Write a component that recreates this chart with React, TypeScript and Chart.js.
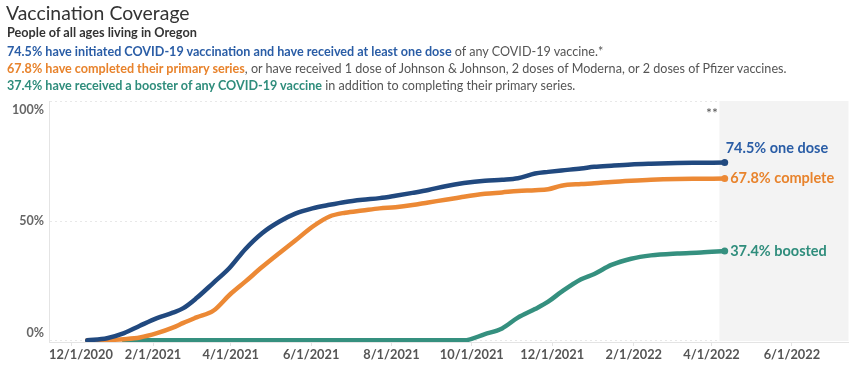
import React, { useEffect, useRef } from "react";
import { Chart, registerables } from "chart.js";

Chart.register(...registerables);

// ---------- data ----------
const dates = [
  "2020-12-13", "2020-12-28", "2021-01-10", "2021-01-22", "2021-02-04", "2021-02-16",
  "2021-02-24", "2021-03-06", "2021-03-19", "2021-03-31", "2021-04-12", "2021-04-25",
  "2021-05-08", "2021-05-20", "2021-06-02", "2021-06-15", "2021-06-27", "2021-07-10",
  "2021-07-23", "2021-08-04", "2021-08-17", "2021-08-29", "2021-09-11", "2021-09-25",
  "2021-10-11", "2021-10-24", "2021-11-05", "2021-11-18", "2021-11-28", "2021-12-08",
  "2021-12-23", "2022-01-02", "2022-01-15", "2022-01-30", "2022-02-14", "2022-03-06",
  "2022-03-24", "2022-04-11",
];

const oneDose = [
  0, 0.9, 3.0, 6.1, 9.3, 11.6,
  13.5, 17.7, 24.2, 30.3, 38.2, 45.0,
  49.8, 53.1, 55.3, 56.8, 58.0, 58.9,
  59.6, 60.6, 61.8, 63.0, 64.6, 65.9,
  66.9, 67.3, 67.9, 69.9, 70.6, 71.2,
  72.0, 72.7, 73.2, 73.7, 74.0, 74.3,
  74.4, 74.5,
];

const complete = [
  0, 0.1, 0.5, 1.2, 3.0, 5.3,
  7.3, 9.6, 12.5, 19.0, 24.6, 30.8,
  36.6, 41.8, 47.6, 51.9, 53.5, 54.4,
  55.3, 55.8, 56.7, 57.8, 58.9, 60.2,
  61.4, 62.0, 62.6, 62.9, 63.3, 64.8,
  65.5, 65.8, 66.4, 66.9, 67.3, 67.6,
  67.7, 67.8,
];

const boosted = [
  null, null, 0, 0, 0, 0,
  0, 0, 0, 0, 0, 0,
  0, 0, 0, 0, 0, 0,
  0, 0, 0, 0, 0, 0,
  2.6, 5.0, 9.5, 13.1, 16.2, 20.3,
  25.6, 27.8, 31.6, 34.2, 35.6, 36.4,
  36.8, 37.4,
];

const xTickDates = [
  "2020-12-01", "2021-02-01", "2021-04-01", "2021-06-01", "2021-08-01",
  "2021-10-01", "2021-12-01", "2022-02-01", "2022-04-01", "2022-06-01",
];
const xTickLabels = [
  "12/1/2020", "2/1/2021", "4/1/2021", "6/1/2021", "8/1/2021",
  "10/1/2021", "12/1/2021", "2/1/2022", "4/1/2022", "6/1/2022",
];
const yTicks = [0, 50, 100];
const yTickLabels = ["0%", "50%", "100%"];

const xStart = "2020-11-14";
const xEnd = "2022-07-14";
const shadeStart = "2022-04-07";

const seriesNames = ["one dose", "complete", "boosted"];
const endLabels = ["74.5% one dose", "67.8% complete", "37.4% boosted"];

// ---------- styles ----------
const FONT = "Lato, 'Open Sans', sans-serif";
const BLUE = "#21497f";
const ORANGE = "#ec8935";
const GREEN = "#35907f";
const BLUE_T = "#2a5da6";
const ORANGE_T = "#e8832c";
const GREEN_T = "#2f8d7c";

const EPOCH = Date.parse("2020-12-01");
const toDay = (s: string) => (Date.parse(s) - EPOCH) / 86400000;

const overlayPlugin = {
  id: "overlay",
  beforeDatasetsDraw(chart: any) {
    const { ctx, chartArea, scales } = chart;
    const x0 = scales.x.getPixelForValue(toDay(shadeStart));
    ctx.save();
    ctx.fillStyle = "#f3f3f3";
    ctx.fillRect(x0, chartArea.top, chartArea.right - x0, chartArea.bottom - chartArea.top - 1);
    ctx.restore();
  },
  afterDatasetsDraw(chart: any) {
    const { ctx, chartArea, scales } = chart;
    ctx.save();
    // y tick labels, kept inside the pane like the original
    ctx.font = `bold 12.5px ${FONT}`;
    ctx.fillStyle = "#666";
    ctx.textAlign = "right";
    ctx.textBaseline = "middle";
    yTicks.forEach((v, i) => {
      let y = scales.y.getPixelForValue(v);
      y = Math.max(chartArea.top + 9, Math.min(chartArea.bottom - 9, y));
      ctx.fillText(yTickLabels[i], chartArea.left - 5, y);
    });
    // x tick labels, kept inside the pane like the original
    ctx.font = `bold 12.8px ${FONT}`;
    ctx.fillStyle = "#555";
    ctx.textAlign = "center";
    xTickDates.forEach((d, i) => {
      const w = ctx.measureText(xTickLabels[i]).width;
      let x = scales.x.getPixelForValue(toDay(d));
      x = Math.max(chartArea.left + w / 2, Math.min(chartArea.right - w / 2, x));
      ctx.fillText(xTickLabels[i], x, chartArea.bottom + 13);
    });
    // ** marker
    const xs = scales.x.getPixelForValue(toDay(shadeStart));
    ctx.font = `14px ${FONT}`;
    ctx.fillStyle = "#555";
    ctx.textAlign = "center";
    ctx.fillText("**", xs - 7.5, chartArea.top + 12);
    // end labels
    ctx.font = `bold 14.5px ${FONT}`;
    ctx.textAlign = "left";
    const colors = [BLUE_T, ORANGE_T, GREEN_T];
    chart.data.datasets.forEach((ds: any, i: number) => {
      const meta = chart.getDatasetMeta(i);
      const pt = meta.data[meta.data.length - 1];
      ctx.fillStyle = colors[i];
      if (i === 0) ctx.fillText(endLabels[i], pt.x + 1, pt.y - 14);
      else ctx.fillText(endLabels[i], pt.x + 5.5, pt.y);
    });
    ctx.restore();
  },
};

export default function App() {
  const ref = useRef<HTMLCanvasElement>(null);

  useEffect(() => {
    const xs = dates.map(toDay);
    const mk = (vals: (number | null)[], color: string, label: string) => ({
      label,
      data: vals.map((v, i) => ({ x: xs[i], y: v })),
      borderColor: color,
      backgroundColor: color,
      borderWidth: 4.5,
      cubicInterpolationMode: "monotone" as const,
      pointRadius: (c: any) => (c.dataIndex === vals.length - 1 ? 3.5 : 0),
      pointHoverRadius: 0,
      pointBorderWidth: 0,
      pointBackgroundColor: color,
      borderCapStyle: "round" as const,
      borderJoinStyle: "round" as const,
      spanGaps: false,
    });

    const chart = new Chart(ref.current!, {
      type: "line",
      data: {
        datasets: [
          mk(oneDose, BLUE, seriesNames[0]),
          mk(complete, ORANGE, seriesNames[1]),
          mk(boosted, GREEN, seriesNames[2]),
        ],
      },
      options: {
        animation: false,
        responsive: false,
        devicePixelRatio: 1,
        layout: { padding: { left: 0, right: 1, top: 101, bottom: 0 } },
        plugins: { legend: { display: false }, tooltip: { enabled: false } },
        events: [],
        scales: {
          x: {
            type: "linear",
            min: toDay(xStart),
            max: toDay(xEnd),
            afterBuildTicks: (scale: any) => {
              scale.ticks = xTickDates.map((d) => ({ value: toDay(d) }));
            },
            afterFit: (scale: any) => {
              scale.height = 33;
            },
            grid: {
              drawOnChartArea: false,
              drawTicks: true,
              tickLength: 4,
              color: "#e4e4e4",
            },
            border: { display: true, color: "#e4e4e4" },
            ticks: {
              display: false,
              autoSkip: false,
              maxRotation: 0,
              callback: (_v: any, i: number) => xTickLabels[i] ?? "",
            },
          },
          y: {
            type: "linear",
            min: -0.7,
            max: 100.3,
            afterBuildTicks: (scale: any) => {
              scale.ticks = yTicks.map((v) => ({ value: v }));
            },
            afterFit: (scale: any) => {
              scale.width = 49;
            },
            grid: { color: "#e8e8e8", drawTicks: false },
            border: { display: true, color: "#e4e4e4", dash: [2, 3] },
            ticks: { display: false },
          },
        },
      },
      plugins: [overlayPlugin],
    } as any);
    return () => chart.destroy();
  }, []);

  const line = (top: number, children: React.ReactNode, extra: any = {}) => (
    <div
      style={{
        position: "absolute",
        left: 7,
        top,
        fontSize: 12.6,
        lineHeight: "17px",
        whiteSpace: "nowrap",
        color: "#555",
        ...extra,
      }}
    >
      {children}
    </div>
  );

  return (
    <div
      style={{
        position: "fixed",
        left: 0,
        top: 0,
        width: 852,
        height: 375,
        background: "#fff",
        fontFamily: FONT,
        overflow: "hidden",
      }}
    >
      <canvas ref={ref} width={852} height={375} style={{ position: "absolute", left: 0, top: 0 }} />
      <div
        style={{
          position: "absolute",
          left: 6,
          top: 1,
          fontSize: 19.4,
          lineHeight: "24px",
          color: "#333",
          whiteSpace: "nowrap",
        }}
      >
        Vaccination Coverage
      </div>
      {line(24, "People of all ages living in Oregon", { color: "#333", fontWeight: 700, fontSize: 12.7 })}
      {line(43, <>
        <b style={{ color: BLUE_T }}>74.5% have initiated COVID-19 vaccination and have received at least one dose</b> of any COVID-19 vaccine.*
      </>)}
      {line(60, <>
        <b style={{ color: ORANGE_T }}>67.8% have completed their primary series</b>, or have received 1 dose of Johnson &amp; Johnson, 2 doses of Moderna, or 2 doses of Pfizer vaccines.
      </>)}
      {line(77, <>
        <b style={{ color: GREEN_T }}>37.4% have received a booster of any COVID-19 vaccine</b> in addition to completing their primary series.
      </>)}
    </div>
  );
}
